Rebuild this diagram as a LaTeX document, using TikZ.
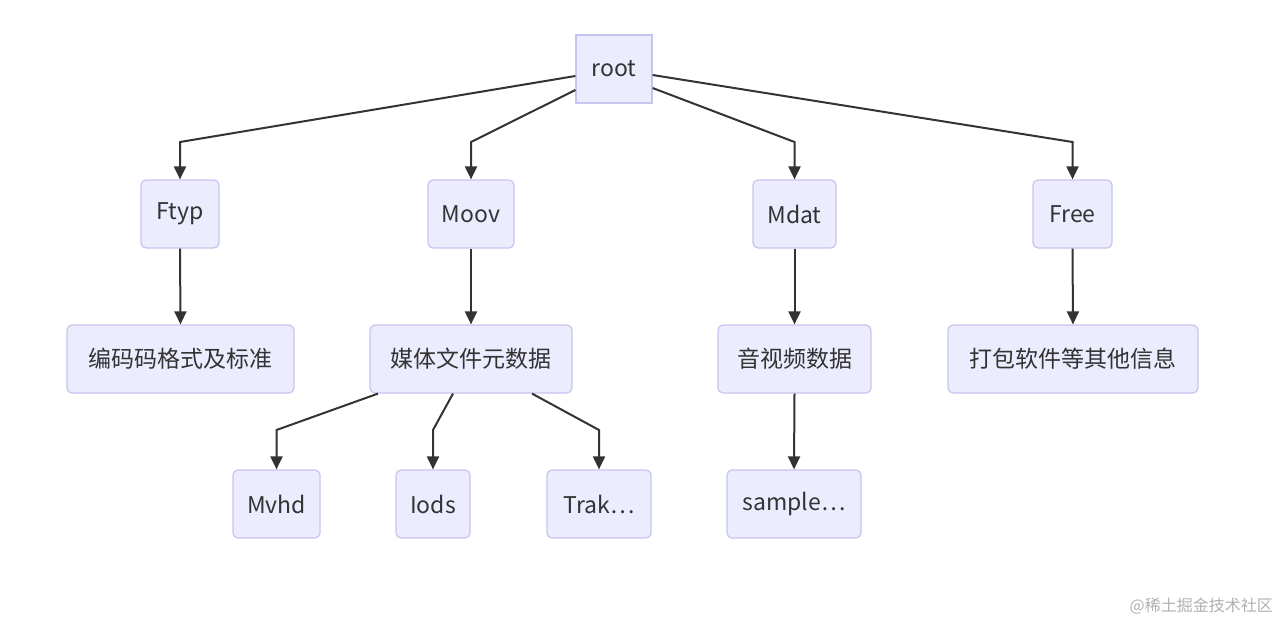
\documentclass[tikz,border=0pt]{standalone}
\usepackage{fontspec}
\setmainfont{Noto Sans CJK SC}
\usetikzlibrary{arrows.meta}
\definecolor{nodefill}{HTML}{ECECFF}
\definecolor{nodeedge}{HTML}{C9C3F0}
\definecolor{edgecol}{HTML}{333333}
\definecolor{txtcol}{HTML}{333333}
\definecolor{wmcol}{HTML}{B0B0B0}
\tikzset{
  box/.style={draw=nodeedge, fill=nodefill, line width=1.2pt, rounded corners=5pt,
    minimum height=68pt, inner sep=0pt, text=txtcol,
    font=\fontsize{23}{27}\selectfont, anchor=center},
  rootbox/.style={box, rounded corners=0pt},
  conn/.style={draw=edgecol, line width=2pt, -{Triangle[length=13pt,width=12pt]}}
}
\begin{document}
\begin{tikzpicture}[x=1pt,y=-1pt]
\useasboundingbox (0,0) rectangle (1280,623);
% nodes
\node[rootbox, minimum width=76pt] (root) at (614,69) {root};
\node[box, minimum width=78pt] (ftyp) at (180,214) {Ftyp};
\node[box, minimum width=86pt] (moov) at (471,214) {Moov};
\node[box, minimum width=83pt] (mdat) at (794.5,214) {Mdat};
\node[box, minimum width=79pt] (free) at (1072.5,214) {Free};
\node[box, minimum width=227pt] (enc) at (180.5,359) {编码码格式及标准};
\node[box, minimum width=202pt] (meta) at (471,359) {媒体文件元数据};
\node[box, minimum width=153pt] (av) at (794.5,359) {音视频数据};
\node[box, minimum width=250pt] (pack) at (1073,359) {打包软件等其他信息};
\node[box, minimum width=87pt] (mvhd) at (276.5,504) {Mvhd};
\node[box, minimum width=74pt] (iods) at (433,504) {Iods};
\node[box, minimum width=104pt] (trak) at (599,504) {Trak…};
\node[box, minimum width=134pt] (sample) at (794,504) {sample…};
% connectors
\draw[conn] ([yshift=-7pt]root.west) -- (180,142) -- (ftyp.north);
\draw[conn] ([yshift=-21pt]root.west) -- (471,142) -- (moov.north);
\draw[conn] ([yshift=-19pt]root.east) -- (794.5,142) -- (mdat.north);
\draw[conn] ([yshift=-6pt]root.east) -- (1072.5,142) -- (free.north);
\draw[conn] (ftyp.south) -- (enc.north);
\draw[conn] (moov.south) -- (meta.north);
\draw[conn] (mdat.south) -- (av.north);
\draw[conn] (free.south) -- (pack.north);
\draw[conn] ([xshift=-93pt]meta.south) -- (276.5,430) -- (mvhd.north);
\draw[conn] ([xshift=-18pt]meta.south) -- (433,430) -- (iods.north);
\draw[conn] ([xshift=61pt]meta.south) -- (599,430) -- (trak.north);
\draw[conn] (av.south) -- (sample.north);
% watermark
\node[text=wmcol, font=\fontsize{16}{18}\selectfont, anchor=east, inner sep=0pt] (wm) at (1273,606) {@稀土掘金技术社区};
\end{tikzpicture}
\end{document}
